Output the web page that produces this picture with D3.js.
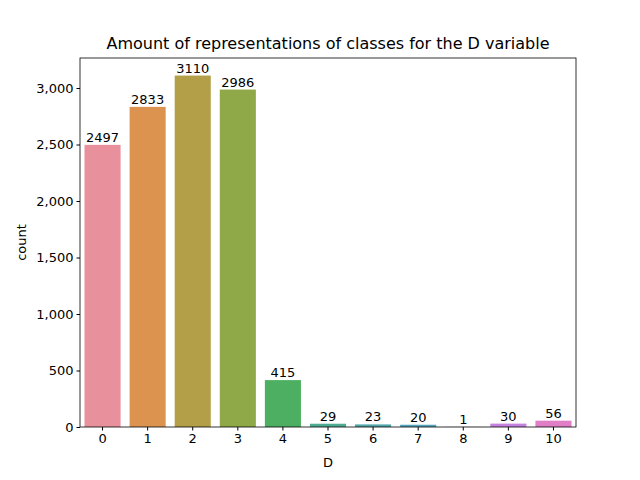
<!DOCTYPE html>
<html><head><script src="https://cdn.jsdelivr.net/npm/d3@7"></script>
<style>body{margin:0;background:#fff}text{font-family:"DejaVu Sans",sans-serif}</style></head>
<body><svg id="c" width="640" height="480"></svg>
<script>
const categories=["0","1","2","3","4","5","6","7","8","9","10"];
const counts=[2497,2833,3110,2986,415,29,23,20,1,30,56];
const colors=["#e8919c","#dc9350","#b29f48","#8fa848","#4caf62","#4fab91","#51a6a8","#54a3bc","#7a9fdc","#c583df","#e17fc6"];
const yTicks=[0,500,1000,1500,2000,2500,3000];
const svg=d3.select("#c");
const m={l:80,r:576,t:58,b:427};
const x=d3.scaleBand().domain(categories).range([m.l,m.r]).paddingInner(0.2).paddingOuter(0.1);
const y=d3.scaleLinear().domain([0,3265.5]).range([m.b,m.t]);
svg.selectAll("rect.bar").data(counts).join("rect").attr("class","bar")
 .attr("x",(d,i)=>x(categories[i])).attr("width",x.bandwidth())
 .attr("y",d=>y(d)).attr("height",d=>y(0)-y(d)).attr("fill",(d,i)=>colors[i]);
svg.selectAll("text.lab").data(counts).join("text").attr("class","lab")
 .attr("x",(d,i)=>x(categories[i])+x.bandwidth()/2).attr("y",d=>y(d)-3)
 .attr("text-anchor","middle").attr("font-size",13).text(d=>d);
const ga=svg.append("g").attr("transform",`translate(0,${m.b})`).call(d3.axisBottom(x).tickSize(3.5).tickSizeOuter(0));
const gy=svg.append("g").attr("transform",`translate(${m.l},0)`).call(d3.axisLeft(y).tickValues(yTicks).tickSize(3.5).tickSizeOuter(0));
[ga,gy].forEach(g=>{g.selectAll("text").attr("font-size",13).attr("fill","#000");g.selectAll("line").attr("stroke","#000");g.select(".domain").remove();});
svg.append("rect").attr("x",m.l).attr("y",m.t).attr("width",m.r-m.l).attr("height",m.b-m.t).attr("fill","none").attr("stroke","#000").attr("stroke-width",0.8);
svg.append("text").attr("x",(m.l+m.r)/2).attr("y",49).attr("text-anchor","middle").attr("font-size",16).text("Amount of representations of classes for the D variable");
svg.append("text").attr("x",(m.l+m.r)/2).attr("y",467).attr("text-anchor","middle").attr("font-size",13).text("D");
svg.append("text").attr("transform",`translate(26,${(m.t+m.b)/2}) rotate(-90)`).attr("text-anchor","middle").attr("font-size",13).text("count");
</script></body></html>
